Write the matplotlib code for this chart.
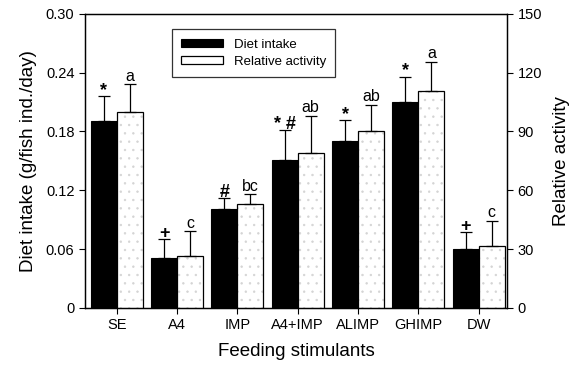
import numpy as np
import matplotlib
matplotlib.use("Agg")
import matplotlib.pyplot as plt
from matplotlib.ticker import FixedLocator, FuncFormatter

plt.rcParams['font.family'] = ['Liberation Sans', 'DejaVu Sans']
plt.rcParams['hatch.linewidth'] = 0.5

# --- dados ---
estimulantes = ["SE", "A4", "IMP", "A4+IMP", "ALIMP", "GHIMP", "DW"]
ingestao = [0.191, 0.051, 0.101, 0.151, 0.170, 0.210, 0.060]
ingestao_err = [0.025, 0.019, 0.011, 0.030, 0.022, 0.026, 0.017]
atividade = [100, 26.5, 53, 79, 90, 110.7, 31.6]
atividade_err = [14, 12.5, 5, 19, 13.6, 14.8, 12.8]
marca_ingestao = ["*", "+", "#", "* #", "*", "*", "+"]
marca_atividade = ["a", "c", "bc", "ab", "ab", "a", "c"]

fig = plt.figure(figsize=(5.73, 3.75), dpi=100)
ax1 = fig.add_axes([0.148, 0.179, 0.737, 0.784])
ax2 = ax1.twinx()

x = np.arange(len(estimulantes))
w = 0.43

b1 = ax1.bar(x - w / 2, ingestao, w, color="black", edgecolor="black", lw=0.8,
             label="Diet intake", zorder=2)
ax1.errorbar(x - w / 2, ingestao, yerr=[np.zeros(len(x)), ingestao_err], fmt="none",
             ecolor="black", elinewidth=0.9, capsize=4, capthick=0.9, zorder=3)

# pontilhado claro por baixo, contorno preto por cima
ax2.bar(x + w / 2, atividade, w, color="white", edgecolor="#d4d4d4", lw=0,
        hatch="..", zorder=2)
b2 = ax2.bar(x + w / 2, atividade, w, fill=False, edgecolor="black", lw=0.9,
             label="Relative activity", zorder=2.5)
ax2.errorbar(x + w / 2, atividade, yerr=[np.zeros(len(x)), atividade_err], fmt="none",
             ecolor="black", elinewidth=0.9, capsize=4, capthick=0.9, zorder=3)

for xi, v, e, m in zip(x, ingestao, ingestao_err, marca_ingestao):
    ax1.text(xi - w / 2, v + e - 0.003, m, ha="center", va="bottom", fontsize=13,
             fontweight="bold")
for xi, v, e, m in zip(x, atividade, atividade_err, marca_atividade):
    ax2.text(xi + w / 2, v + e + 0.3, m, ha="center", va="bottom", fontsize=11.5)

ax1.set_xlim(-0.53, 6.47)
ax1.set_ylim(0, 0.30)
ax2.set_ylim(0, 150)
ax1.yaxis.set_major_locator(FixedLocator([0, 0.06, 0.12, 0.18, 0.24, 0.30]))
ax1.yaxis.set_major_formatter(FuncFormatter(lambda v, p: "0" if v == 0 else f"{v:.2f}"))
ax2.yaxis.set_major_locator(FixedLocator([0, 30, 60, 90, 120, 150]))
ax1.set_xticks(x)
ax1.set_xticklabels(estimulantes)

for a in (ax1, ax2):
    a.tick_params(labelsize=10.5, length=4, width=0.8, direction="out")
    for s in a.spines.values():
        s.set_linewidth(0.9)

ax1.set_xlabel("Feeding stimulants", fontsize=13.5, labelpad=8)
ax1.set_ylabel("Diet intake (g/fish ind./day)", fontsize=13.5, labelpad=6)
ax2.set_ylabel("Relative activity", fontsize=13.5, labelpad=8)

leg = ax2.legend(handles=[b1, b2], loc="upper left", bbox_to_anchor=(0.19, 0.97),
                 fontsize=9.5, frameon=True, fancybox=False, edgecolor="black",
                 handlelength=3.2, handleheight=0.6, borderpad=0.7, labelspacing=0.4)
leg.get_frame().set_linewidth(0.9)

fig.savefig("out.png", dpi=100)
